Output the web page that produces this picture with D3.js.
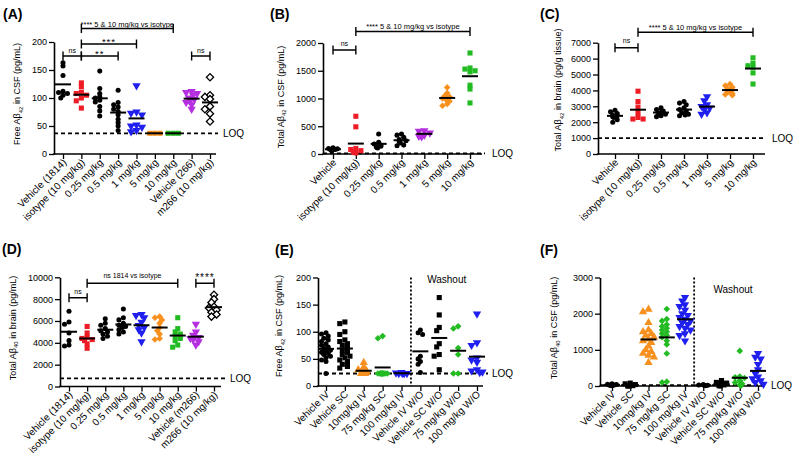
<!DOCTYPE html>
<html><head><meta charset="utf-8">
<script src="https://cdn.jsdelivr.net/npm/d3@7"></script>
<style>body{margin:0;background:#fff;} svg text{font-family:"Liberation Sans",Arial,sans-serif;fill:#000;}</style>
</head><body><svg id="c" width="800" height="466"></svg>
<script>
// ---------------- DATA ----------------
const catsA = ["Vehicle (1814)","isotype (10 mg/kg)","0.25 mg/kg","0.5 mg/kg","1 mg/kg","5 mg/kg","10 mg/kg","Vehicle (266)","m266 (10 mg/kg)"];
const valsA = [
  [163,157,140,112,110,108,105,100],
  [127,120,110,108,105,100,95,82],
  [148,117,108,102,100,96,93,85,77,68],
  [114,92,88,84,80,76,70,62,56,50,42],
  [122,75,73,70,52,50,48,42,40],
  [37,37,37],
  [37,37,37],
  [112,110,108,105,100,98,95,92,88,80],
  [137,105,102,98,85,80,72,58]
];
const ticksA = [0,50,100,150,200];
const loqA = 37;

const catsB = ["Vehicle","isotype (10 mg/kg)","0.25 mg/kg","0.5 mg/kg","1 mg/kg","5 mg/kg","10 mg/kg"];
const valsB = [
  [110,100,95,90,80,70,60],
  [680,490,100,80,60,40,30,20],
  [360,210,180,160,140,120,110],
  [360,340,300,260,240,220,200,160,150],
  [420,410,380,340,320,310],
  [1200,1100,1050,1030,1020,1000,980,950,900,870],
  [1820,1550,1530,1500,1480,1240,1170,920]
];
const ticksB = [0,500,1000,1500,2000];
const loqB = 12;

const catsC = ["Vehicle","isotype (10 mg/kg)","0.25 mg/kg","0.5 mg/kg","1 mg/kg","5 mg/kg","10 mg/kg"];
const valsC = [
  [2750,2650,2550,2450,2400,2350,2300,2150,2000],
  [3950,3300,2950,2600,2300,2200,2200],
  [2900,2800,2700,2650,2600,2550,2500,2400,2350],
  [3300,3200,3100,2900,2800,2700,2600,2500,2450,2400],
  [3600,3350,3100,3000,2900,2800,2600,2500],
  [4400,4300,4200,4100,4050,4000,3900,3800,3750,3700],
  [6050,5700,5550,5450,5100,4400]
];
const ticksC = [0,1000,2000,3000,4000,5000,6000,7000];
const loqC = 1000;

const catsD = ["Vehicle (1814)","isotype (10 mg/kg)","0.25 mg/kg","0.5 mg/kg","1 mg/kg","5 mg/kg","10 mg/kg","Vehicle (m266)","m266 (10 mg/kg)"];
const valsD = [
  [6900,5900,5700,4900,4200,3800,3700],
  [5500,4900,4500,4400,4300,4200,3900,3500],
  [6200,5800,5600,5300,5100,5000,4800,4600,4400],
  [7100,6300,6100,5800,5600,5500,5400,5200,5000,4800],
  [6600,6500,6300,5900,5600,5400,5200,4900,4100],
  [6400,6300,6100,5800,5400,5100,4800,4400,4300],
  [6300,5300,5000,4800,4600,4400,4200,3800,3600],
  [5700,5000,4700,4500,4400,4300,4100,3800],
  [8400,8000,7700,7300,7200,7000,6800,6600,6400]
];
const ticksD = [0,2000,4000,6000,8000,10000];
const loqD = 750;

const catsE = ["Vehicle IV","Vehicle SC","10mg/kg IV","75 mg/kg SC","100 mg/kg IV","Vehicle IV W/O","Vehicle SC W/O","75 mg/kg W/O","100 mg/kg W/O"];
const valsE = [
  [98,96,92,88,85,82,78,75,72,70,68,66,64,62,60,58,55,52,48,45,23],
  [118,115,100,95,85,82,78,75,70,66,62,58,55,52,48,45,40,36,33],
  [43,35,30,28,25,23,23,23,23],
  [92,88,23,23,23,23,23,23,23,23,23,23],
  [25,24,23,23,23,23],
  [103,98,95,55,50,45,40,25],
  [163,131,108,102,78,72,58,55,30],
  [110,106,70,58,23,23],
  [133,80,75,52,48,44,30,28,26,25]
];
const ticksE = [0,50,100,150,200];
const loqE = 23;

const catsF = catsE;
const valsF = [
  [60,50,40,30,25,20,15,10],
  [80,60,40,20,10,0,0],
  [2120,2050,1750,1550,1500,1450,1400,1350,1300,1250,1200,1100,1000,950,900,850,800,650],
  [2130,1850,1800,1700,1650,1600,1550,1500,1450,1400,1350,1250,1150,900,120,100],
  [2450,2350,2250,2200,2100,2000,1950,1900,1850,1800,1750,1700,1650,1600,1550,1450,1400,1250],
  [40,30,20,15,10],
  [150,100,80,50,30,10,0],
  [970,260,240,220,150,100,60,30,10],
  [900,800,750,600,450,350,250,200,150,100,50]
];
const ticksF = [0,1000,2000,3000];
const loqF = 25;

// ---------------- STYLES ----------------
const K="#000000", R="#ee1c25", BL="#1f1ff0", O="#f7901e", G="#22bb22", P="#b52fe0";
const shapesA = ["circle","square","circle","circle","triDown","square","square","triDown","openDiamond"];
const colorsA = [K,R,K,K,BL,O,G,P,K];
const shapesB = ["circle","square","circle","circle","triDown","diamond","square"];
const colorsB = [K,R,K,K,P,O,G];
const shapesC = ["circle","square","circle","circle","triDown","diamond","square"];
const colorsC = [K,R,K,K,BL,O,G];
const shapesD = ["circle","square","circle","circle","triDown","diamond","square","triDown","openDiamond"];
const colorsD = [K,R,K,K,BL,O,G,P,K];
const shapesE = ["circle","square","triUp","diamond","triDown","circle","square","diamond","triDown"];
const colorsE = [K,K,O,G,BL,K,K,G,BL];

// ---------------- DRAW ----------------
const svg = d3.select("#c");
const SZ = {circle:20, square:26, triDown:30, triUp:30, diamond:22, openDiamond:26};

function marker(g, shape, color, x, y){
  let t = `translate(${x},${y})`;
  let type = d3.symbolCircle;
  if (shape==="square") type=d3.symbolSquare;
  if (shape==="triDown"){type=d3.symbolTriangle; t+=" rotate(180)";}
  if (shape==="triUp") type=d3.symbolTriangle;
  if (shape==="diamond"||shape==="openDiamond"){type=d3.symbolSquare; t+=" rotate(45)";}
  const p = g.append("path").attr("d", d3.symbol(type, SZ[shape])()).attr("transform", t);
  if (shape==="openDiamond") p.attr("fill","#fff").attr("stroke",K).attr("stroke-width",1.3);
  else p.attr("fill",color);
}

function swarm(vals, y, size){
  const r = Math.sqrt(size);
  const step = r*0.5;
  const placed = [];
  const order = vals.map((v,i)=>({v,i})).sort((a,b)=>b.v-a.v);
  order.forEach((o,k)=>{
    const yy = y(o.v);
    let best = null;
    for (let j=0;j<5;j++){
      const off = (j%2? -1:1)*Math.ceil(j/2)*step;
      if (placed.every(p=>Math.hypot(p.dx-off,p.y-yy) >= r*0.75)){best=off;break;}
    }
    if (best===null) best = ((k%5)-2)*step*0.5;
    placed.push({dx:best,y:yy,v:o.v});
  });
  return placed;
}

function panel(cfg){
  const {cats, vals, ticks, loq, shapes, colors, L, brackets} = cfg;
  const g = svg.append("g");
  const x = d3.scalePoint().domain(d3.range(cats.length)).range([L.c0, L.c1]);
  const y = d3.scaleLinear().domain([0, d3.max(ticks)]).range([L.y0, L.yTop]);

  g.append("line").attr("x1",L.ax).attr("x2",L.loqEnd).attr("y1",y(loq)).attr("y2",y(loq))
    .attr("stroke",K).attr("stroke-width",1.8).attr("stroke-dasharray","4,3");
  g.append("text").attr("x",L.loqTx).attr("y",y(loq)+3.5).attr("font-size",10).text("LOQ");

  if (L.washout){
    const sx = (x(4)+x(5))/2;
    g.append("line").attr("x1",sx).attr("x2",sx).attr("y1",L.yTop).attr("y2",L.y0)
      .attr("stroke",K).attr("stroke-width",1.8).attr("stroke-dasharray","2,2");
    g.append("text").attr("x",L.washout[0]).attr("y",L.washout[1]).attr("font-size",10)
      .attr("text-anchor","middle").text("Washout");
  }

  const ya = g.append("g").attr("transform",`translate(${L.ax},0)`)
    .call(d3.axisLeft(y).tickValues(ticks).tickFormat(d3.format("d")).tickSize(5).tickSizeOuter(0).tickPadding(2));
  ya.select(".domain").attr("stroke-width",1.6);
  ya.selectAll(".tick line").attr("stroke-width",1.3);
  ya.selectAll(".tick text").attr("font-size",9).attr("font-family",'"Liberation Sans",Arial,sans-serif');

  g.append("line").attr("x1",L.ax-0.8).attr("x2",L.xEnd).attr("y1",L.y0).attr("y2",L.y0)
    .attr("stroke",K).attr("stroke-width",1.6);
  const xa = g.append("g").attr("transform",`translate(0,${L.y0})`)
    .call(d3.axisBottom(x).tickSize(5).tickSizeOuter(0).tickFormat(""));
  xa.select(".domain").remove();
  xa.selectAll(".tick line").attr("stroke-width",1.3);
  cats.forEach((c,i)=>{
    g.append("text").attr("transform",`translate(${x(i)+4},${L.y0+9}) rotate(-45)`)
      .attr("text-anchor","end").attr("font-size",10).text(c);
  });

  vals.forEach((vs,i)=>{
    const pts = swarm(vs, y, SZ[shapes[i]]);
    pts.forEach(p=>marker(g, shapes[i], colors[i], x(i)+p.dx, p.y));
  });
  vals.forEach((vs,i)=>{
    const m = d3.mean(vs);
    g.append("line").attr("x1",x(i)-8).attr("x2",x(i)+8).attr("y1",y(m)).attr("y2",y(m))
      .attr("stroke",K).attr("stroke-width",2);
  });

  (brackets||[]).forEach(b=>{
    const x1=x(b.a), x2=x(b.b);
    g.append("path").attr("d",`M${x1},${b.y-4.5}V${b.y+4.5}M${x1},${b.y}H${x2}M${x2},${b.y-4.5}V${b.y+4.5}`)
      .attr("stroke",K).attr("stroke-width",1.4).attr("fill","none");
    g.append("text").attr("x",(x1+x2)/2).attr("y",b.y+b.dy).attr("text-anchor","middle")
      .attr("font-size",b.fs).attr("letter-spacing",b.ls||0).text(b.t);
  });

  const tt = g.append("text").attr("transform",`translate(${L.tx},${L.ty}) rotate(-90)`)
    .attr("text-anchor","middle").attr("font-size",9);
  tt.append("tspan").text(cfg.title[0]);
  tt.append("tspan").attr("font-size",6).attr("dy",2.5).text(cfg.title[1]);
  tt.append("tspan").attr("dy",-2.5).text(cfg.title[2]);

  g.append("text").attr("x",L.lx).attr("y",L.ly).attr("font-size",14).attr("font-weight","bold").text(cfg.label);
}

const longT = "**** 5 & 10 mg/kg vs isotype";

panel({cats:catsA, vals:valsA, ticks:ticksA, loq:loqA, shapes:shapesA, colors:colorsA, label:"(A)",
  title:["Free Aβ","42"," in CSF (pg/mL)"],
  L:{ax:54,c0:63,c1:210,y0:154,yTop:42,xEnd:216,loqEnd:218,loqTx:223,tx:20,ty:94,lx:3,ly:18.5},
  brackets:[
    {a:0,b:1,t:"ns",y:56,dy:-3,fs:7},
    {a:1,b:3,t:"**",y:56,dy:1,fs:9.5,ls:1},
    {a:1,b:4,t:"***",y:44,dy:1,fs:9.5,ls:1},
    {a:1,b:6,t:longT,y:28.5,dy:-2,fs:7.5},
    {a:7,b:8,t:"ns",y:56,dy:-3,fs:7}
  ]});

panel({cats:catsB, vals:valsB, ticks:ticksB, loq:loqB, shapes:shapesB, colors:colorsB, label:"(B)",
  title:["Total Aβ","42"," in CSF (pg/mL)"],
  L:{ax:323,c0:333,c1:470,y0:154,yTop:43,xEnd:482,loqEnd:485,loqTx:492,tx:283.5,ty:97,lx:270,ly:18.5},
  brackets:[
    {a:0,b:1,t:"ns",y:50,dy:-4,fs:7},
    {a:1,b:6,t:longT,y:31.5,dy:-2.5,fs:7.5}
  ]});

panel({cats:catsC, vals:valsC, ticks:ticksC, loq:loqC, shapes:shapesC, colors:colorsC, label:"(C)",
  title:["Total Aβ","42"," in brain (pg/g tissue)"],
  L:{ax:598,c0:615,c1:753,y0:154,yTop:42.7,xEnd:765,loqEnd:766,loqTx:772,tx:561,ty:90,lx:540,ly:18.5},
  brackets:[
    {a:0,b:1,t:"ns",y:47.7,dy:-5,fs:7},
    {a:1,b:6,t:longT,y:32.3,dy:-2.5,fs:7.5}
  ]});

panel({cats:catsD, vals:valsD, ticks:ticksD, loq:loqD, shapes:shapesD, colors:colorsD, label:"(D)",
  title:["Total Aβ","40"," in brain (pg/mL)"],
  L:{ax:60,c0:69,c1:214,y0:386.5,yTop:277.3,xEnd:221,loqEnd:225,loqTx:230,tx:15.6,ty:328,lx:2,ly:254},
  brackets:[
    {a:0,b:1,t:"ns",y:297.7,dy:-4,fs:7},
    {a:1,b:6,t:"ns 1814 vs isotype",y:283.3,dy:-5.5,fs:7},
    {a:7,b:8,t:"****",y:283.3,dy:-2.3,fs:10,ls:1}
  ]});

panel({cats:catsE, vals:valsE, ticks:ticksE, loq:loqE, shapes:shapesE, colors:colorsE, label:"(E)",
  title:["Free Aβ","42"," in CSF (pg/mL)"],
  L:{ax:318,c0:326,c1:477,y0:386,yTop:277.5,xEnd:483,loqEnd:488,loqTx:492,tx:282.3,ty:326,lx:275,ly:255,washout:[446.7,283]},
  brackets:[]});

panel({cats:catsF, vals:valsF, ticks:ticksF, loq:loqF, shapes:shapesE, colors:colorsE, label:"(F)",
  title:["Total Aβ","40"," in CSF (pg/mL)"],
  L:{ax:600,c0:612,c1:758,y0:386,yTop:277.5,xEnd:765,loqEnd:766,loqTx:771,tx:557.3,ty:328,lx:540,ly:255,washout:[733,293]},
  brackets:[]});
</script>
</body></html>
